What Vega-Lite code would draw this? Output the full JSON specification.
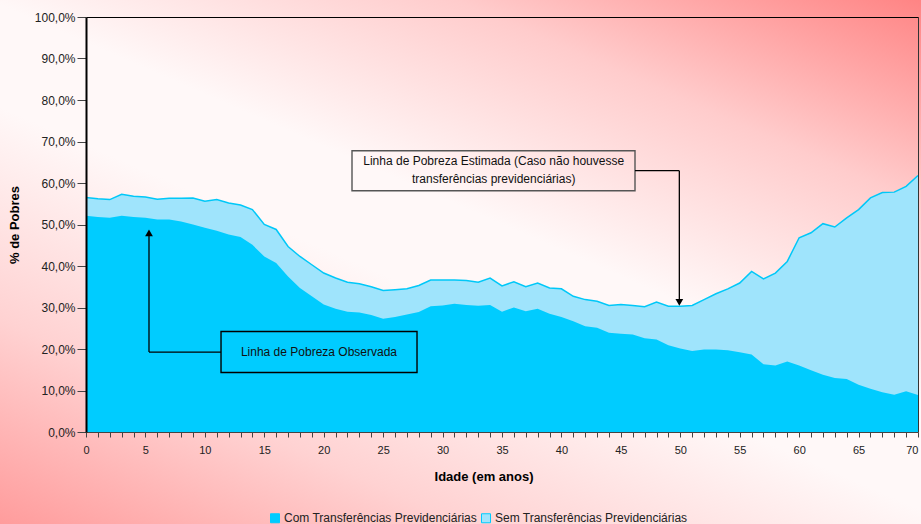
{
  "$schema": "https://vega.github.io/schema/vega-lite/v6.json",
  "width": 832,
  "height": 415,
  "autosize": {"type": "none"},
  "padding": {"left": 86, "top": 17, "right": 3, "bottom": 92},
  "background": "#ffd8d8",
  "config": {
    "font": "Liberation Sans",
    "view": {
      "fill": {"gradient": "linear", "x1": -0.103, "y1": 1.222, "x2": 1.004, "y2": -0.041, "stops": [
        {"offset": 0, "color": "#ff9c9c"}, {"offset": 0.22, "color": "#ffd2d2"}, {"offset": 0.45, "color": "#fff8f8"},
        {"offset": 0.56, "color": "#fff8f8"}, {"offset": 0.78, "color": "#ffcccc"}, {"offset": 1, "color": "#ff8484"}]},
      "stroke": {"gradient": "linear", "x1": -0.103, "y1": 1.222, "x2": 1.004, "y2": -0.041, "stops": [
        {"offset": 0, "color": "#ff9c9c"}, {"offset": 0.22, "color": "#ffd2d2"}, {"offset": 0.45, "color": "#fff8f8"},
        {"offset": 0.56, "color": "#fff8f8"}, {"offset": 0.78, "color": "#ffcccc"}, {"offset": 1, "color": "#ff8484"}]},
      "strokeWidth": 190
    }
  },
  "datasets": {
    "pobreza": [
      {"idade": 0, "com": 52.1, "sem": 56.5}, {"idade": 1, "com": 51.8, "sem": 56.2}, {"idade": 2, "com": 51.6, "sem": 56.0},
      {"idade": 3, "com": 52.1, "sem": 57.3}, {"idade": 4, "com": 51.8, "sem": 56.8}, {"idade": 5, "com": 51.6, "sem": 56.6},
      {"idade": 6, "com": 51.2, "sem": 56.1}, {"idade": 7, "com": 51.2, "sem": 56.3}, {"idade": 8, "com": 50.7, "sem": 56.3},
      {"idade": 9, "com": 50.0, "sem": 56.4}, {"idade": 10, "com": 49.2, "sem": 55.6}, {"idade": 11, "com": 48.5, "sem": 56.0},
      {"idade": 12, "com": 47.6, "sem": 55.2}, {"idade": 13, "com": 47.0, "sem": 54.7}, {"idade": 14, "com": 45.1, "sem": 53.6},
      {"idade": 15, "com": 42.3, "sem": 50.0}, {"idade": 16, "com": 40.7, "sem": 48.8}, {"idade": 17, "com": 37.5, "sem": 44.7},
      {"idade": 18, "com": 34.7, "sem": 42.3}, {"idade": 19, "com": 32.7, "sem": 40.3}, {"idade": 20, "com": 30.7, "sem": 38.3},
      {"idade": 21, "com": 29.7, "sem": 37.1}, {"idade": 22, "com": 29.0, "sem": 36.1}, {"idade": 23, "com": 28.8, "sem": 35.7},
      {"idade": 24, "com": 28.2, "sem": 35.0}, {"idade": 25, "com": 27.3, "sem": 34.1}, {"idade": 26, "com": 27.7, "sem": 34.3},
      {"idade": 27, "com": 28.3, "sem": 34.5}, {"idade": 28, "com": 28.9, "sem": 35.3}, {"idade": 29, "com": 30.3, "sem": 36.6},
      {"idade": 30, "com": 30.5, "sem": 36.6}, {"idade": 31, "com": 30.9, "sem": 36.6}, {"idade": 32, "com": 30.6, "sem": 36.5},
      {"idade": 33, "com": 30.4, "sem": 36.1}, {"idade": 34, "com": 30.6, "sem": 37.1}, {"idade": 35, "com": 29.0, "sem": 35.2},
      {"idade": 36, "com": 30.0, "sem": 36.2}, {"idade": 37, "com": 29.1, "sem": 35.0}, {"idade": 38, "com": 29.7, "sem": 35.9},
      {"idade": 39, "com": 28.5, "sem": 34.7}, {"idade": 40, "com": 27.7, "sem": 34.5}, {"idade": 41, "com": 26.7, "sem": 32.7},
      {"idade": 42, "com": 25.5, "sem": 31.9}, {"idade": 43, "com": 25.1, "sem": 31.5}, {"idade": 44, "com": 23.9, "sem": 30.5},
      {"idade": 45, "com": 23.7, "sem": 30.7}, {"idade": 46, "com": 23.5, "sem": 30.5}, {"idade": 47, "com": 22.6, "sem": 30.2},
      {"idade": 48, "com": 22.3, "sem": 31.3}, {"idade": 49, "com": 20.9, "sem": 30.3}, {"idade": 50, "com": 20.1, "sem": 30.3},
      {"idade": 51, "com": 19.5, "sem": 30.5}, {"idade": 52, "com": 19.9, "sem": 31.9}, {"idade": 53, "com": 19.9, "sem": 33.3},
      {"idade": 54, "com": 19.7, "sem": 34.5}, {"idade": 55, "com": 19.2, "sem": 35.9}, {"idade": 56, "com": 18.7, "sem": 38.7},
      {"idade": 57, "com": 16.3, "sem": 36.9}, {"idade": 58, "com": 16.0, "sem": 38.3}, {"idade": 59, "com": 17.0, "sem": 41.1},
      {"idade": 60, "com": 16.0, "sem": 46.8}, {"idade": 61, "com": 14.9, "sem": 48.0}, {"idade": 62, "com": 13.8, "sem": 50.2},
      {"idade": 63, "com": 13.0, "sem": 49.4}, {"idade": 64, "com": 12.8, "sem": 51.6}, {"idade": 65, "com": 11.4, "sem": 53.6},
      {"idade": 66, "com": 10.4, "sem": 56.4}, {"idade": 67, "com": 9.6, "sem": 57.7}, {"idade": 68, "com": 9.0, "sem": 57.8},
      {"idade": 69, "com": 9.8, "sem": 59.2}, {"idade": 70, "com": 8.9, "sem": 61.8}
    ],
    "caixas": [
      {"id": "est", "xa": 22.38, "xb": 46.19, "ya": 67.78, "yb": 58.15},
      {"id": "obs", "xa": 11.36, "xb": 27.85, "ya": 24.2, "yb": 14.33}
    ],
    "conectores": [
      {"xa": 46.19, "ya": 62.96, "xb": 49.92, "yb": 62.96},
      {"xa": 49.92, "ya": 62.96, "xb": 49.92, "yb": 31.8},
      {"xa": 11.36, "ya": 19.26, "xb": 5.3, "yb": 19.26},
      {"xa": 5.3, "ya": 19.26, "xb": 5.3, "yb": 47.4}
    ],
    "setas": [
      {"idade": 49.92, "pct": 31.25, "dir": "down"},
      {"idade": 5.3, "pct": 48.0, "dir": "up"}
    ],
    "rotulos": [
      {"idade": 34.3, "pct": 65.4, "texto": "Linha de Pobreza Estimada (Caso não houvesse\ntransferências previdenciárias)"},
      {"idade": 19.6, "pct": 19.26, "texto": "Linha de Pobreza Observada"}
    ]
  },
  "resolve": {"axis": {"x": "independent", "y": "independent"}},
  "layer": [
    {
      "data": {"name": "pobreza"},
      "mark": {"type": "area"},
      "encoding": {
        "x": {
          "field": "idade", "type": "quantitative",
          "scale": {"domain": [0, 70], "nice": false, "zero": false},
          "axis": {
            "title": "Idade (em anos)",
            "values": [0,1,2,3,4,5,6,7,8,9,10,11,12,13,14,15,16,17,18,19,20,21,22,23,24,25,26,27,28,29,30,31,32,33,34,35,36,37,38,39,40,41,42,43,44,45,46,47,48,49,50,51,52,53,54,55,56,57,58,59,60,61,62,63,64,65,66,67,68,69,70],
            "labelExpr": "datum.value % 5 === 0 ? datum.label : ''",
            "labelAlign": {"condition": {"test": "datum.value === 70", "value": "right"}, "value": "center"},
            "labelOverlap": false,
            "labelFlush": false,
            "labelFontSize": 11,
            "labelColor": "#222222",
            "labelPadding": 7,
            "tickSize": 5,
            "tickColor": "#444444",
            "domainColor": "#444444",
            "grid": true,
            "gridColor": "#333333",
            "gridOpacity": {"condition": {"test": "datum.value === 70", "value": 1}, "value": 0},
            "titleFontSize": 13,
            "titleFontWeight": "bold",
            "titleColor": "#000000",
            "titlePadding": 15,
            "titleX": 397.5,
            "zindex": 1
          }
        },
        "y": {
          "field": "sem", "type": "quantitative",
          "scale": {"domain": [0, 100], "nice": false},
          "axis": {
            "title": "% de Pobres",
            "values": [0, 10, 20, 30, 40, 50, 60, 70, 80, 90, 100],
            "labelExpr": "replace(format(datum.value, '.1f'), '.', ',') + '%'",
            "labelFontSize": 12,
            "labelColor": "#222222",
            "labelPadding": 2,
            "labelFlush": false,
            "tickSize": 9,
            "tickColor": "#444444",
            "domainColor": "#000000",
            "domainWidth": 2,
            "grid": true,
            "gridColor": "#000000",
            "gridOpacity": {"condition": {"test": "datum.value === 100", "value": 1}, "value": 0},
            "titleFontSize": 13,
            "titleFontWeight": "bold",
            "titleColor": "#000000",
            "titlePadding": 13,
            "zindex": 1
          }
        },
        "color": {
          "datum": "Sem Transferências Previdenciárias",
          "scale": {"domain": ["Com Transferências Previdenciárias", "Sem Transferências Previdenciárias"], "range": ["#00ccff", "#9fe4fc"]},
          "legend": {
            "orient": "none", "legendX": 183, "legendY": 495, "direction": "horizontal",
            "title": null, "symbolType": "square", "symbolSize": 81,
            "symbolStrokeColor": "#00ccff", "symbolStrokeWidth": 1, "symbolOpacity": 1,
            "labelFontSize": 12, "labelColor": "#222222", "labelOffset": 3, "labelLimit": 400, "columnPadding": 2, "padding": 0
          }
        }
      }
    },
    {
      "data": {"name": "pobreza"},
      "mark": {"type": "line", "color": "#00c8f8", "strokeWidth": 1.5},
      "encoding": {
        "x": {"field": "idade", "type": "quantitative", "axis": null},
        "y": {"field": "sem", "type": "quantitative", "axis": null}
      }
    },
    {
      "data": {"name": "pobreza"},
      "mark": {"type": "area"},
      "encoding": {
        "x": {"field": "idade", "type": "quantitative", "axis": null},
        "y": {"field": "com", "type": "quantitative", "axis": null},
        "color": {"datum": "Com Transferências Previdenciárias"}
      }
    },
    {
      "data": {"name": "caixas"},
      "mark": {"type": "rect", "fillOpacity": 0, "strokeWidth": 1.4},
      "encoding": {
        "x": {"field": "xa", "type": "quantitative", "axis": null},
        "x2": {"field": "xb"},
        "y": {"field": "ya", "type": "quantitative", "axis": null},
        "y2": {"field": "yb"},
        "stroke": {"condition": {"test": "datum.id === 'est'", "value": "#555555"}, "value": "#000000"}
      }
    },
    {
      "data": {"name": "conectores"},
      "mark": {"type": "rule", "color": "#000000", "strokeWidth": 1.3},
      "encoding": {
        "x": {"field": "xa", "type": "quantitative", "axis": null},
        "x2": {"field": "xb"},
        "y": {"field": "ya", "type": "quantitative", "axis": null},
        "y2": {"field": "yb"}
      }
    },
    {
      "data": {"name": "setas"},
      "mark": {"type": "point", "filled": true, "color": "#000000", "size": 60, "opacity": 1},
      "encoding": {
        "x": {"field": "idade", "type": "quantitative", "axis": null},
        "y": {"field": "pct", "type": "quantitative", "axis": null},
        "shape": {"condition": {"test": "datum.dir === 'down'", "value": "triangle-down"}, "value": "triangle-up"}
      }
    },
    {
      "data": {"name": "rotulos"},
      "mark": {"type": "text", "fontSize": 12, "lineBreak": "\n", "lineHeight": 18, "align": "center", "baseline": "middle", "color": "#111111"},
      "encoding": {
        "x": {"field": "idade", "type": "quantitative", "axis": null},
        "y": {"field": "pct", "type": "quantitative", "axis": null},
        "text": {"field": "texto"}
      }
    }
  ]
}
